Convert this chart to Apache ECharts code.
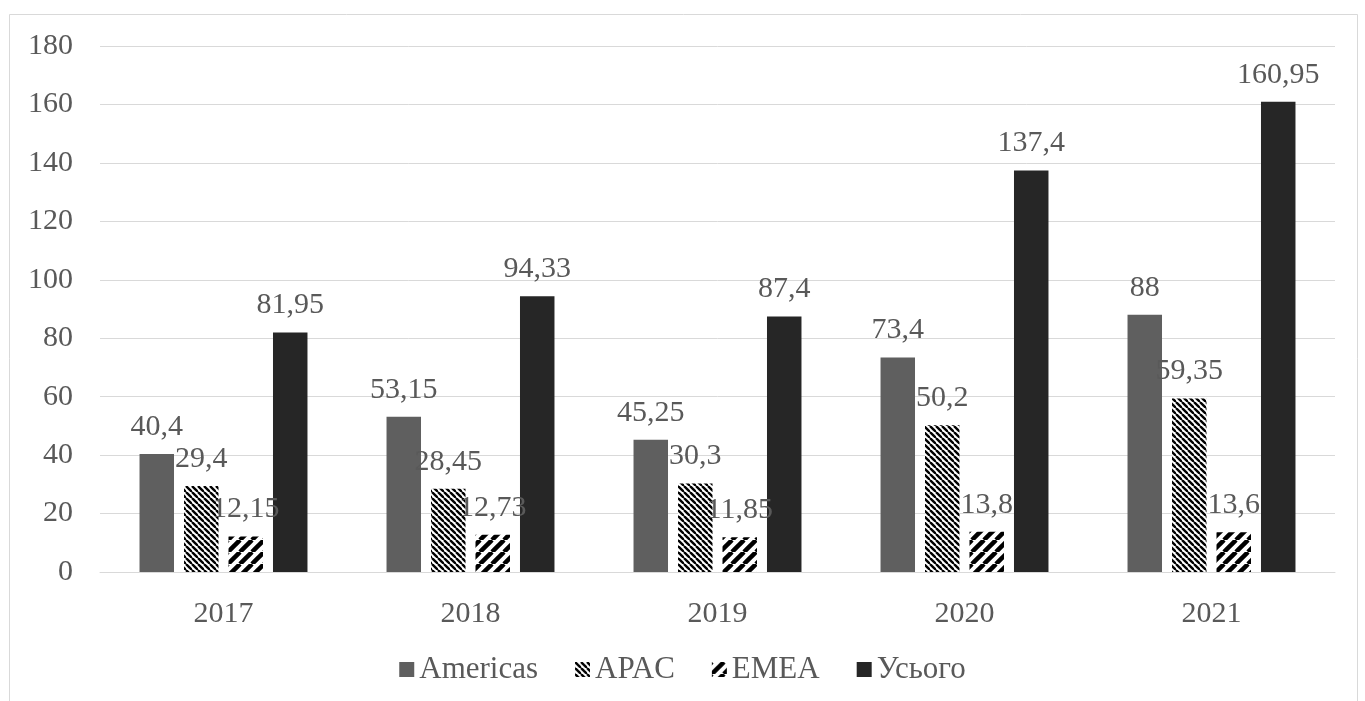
<!DOCTYPE html>
<html>
<head>
<meta charset="utf-8">
<script src="https://cdn.jsdelivr.net/npm/echarts@6/dist/echarts.min.js"></script>
<style>
  html, body { margin: 0; padding: 0; background: #fff; }
  #chart { width: 1365px; height: 701px; }
</style>
</head>
<body>
<div id="chart"></div>
<script>
// Regional figures by year
const years = ['2017', '2018', '2019', '2020', '2021'];
const americas = [40.4, 53.15, 45.25, 73.4, 88];
const apac = [29.4, 28.45, 30.3, 50.2, 59.35];
const emea = [12.15, 12.73, 11.85, 13.8, 13.6];
const total = [81.95, 94.33, 87.4, 137.4, 160.95];
const seriesNames = ['Americas', 'APAC', 'EMEA', 'Усього'];

// Diagonal hatch tiles used as bar fills
function hatch(size, width, dir) {
  const c = document.createElement('canvas');
  c.width = size; c.height = size;
  const g = c.getContext('2d');
  g.fillStyle = '#fff';
  g.fillRect(0, 0, size, size);
  g.strokeStyle = '#000';
  g.lineWidth = width;
  for (let k = -1; k <= 1; k++) {
    g.beginPath();
    if (dir === 'down') {
      g.moveTo(k * size, 0); g.lineTo(k * size + size, size);
    } else {
      g.moveTo(k * size + size, 0); g.lineTo(k * size, size);
    }
    g.stroke();
  }
  return c;
}

const font = '"Liberation Serif", "Times New Roman", serif';
const textColor = '#595959';

function label() {
  return {
    show: true,
    position: 'top',
    distance: 12,
    color: textColor,
    fontFamily: font,
    fontSize: 30,
    formatter: p => String(p.value).replace('.', ',')
  };
}

const chart = echarts.init(document.getElementById('chart'), null, { renderer: 'canvas' });
chart.setOption({
  animation: false,
  backgroundColor: '#fff',
  graphic: [{
    type: 'rect',
    shape: { x: 9.5, y: 14.5, width: 1348, height: 700 },
    style: { fill: 'none', stroke: '#d9d9d9', lineWidth: 1 },
    silent: true, z: -1
  }],
  grid: { left: 100, right: 30, top: 46, bottom: 129 },
  legend: {
    data: seriesNames,
    top: 649,
    left: 'center',
    icon: 'rect',
    itemWidth: 15,
    itemHeight: 15,
    itemGap: 37,
    textStyle: { color: textColor, fontFamily: font, fontSize: 31 }
  },
  xAxis: {
    type: 'category',
    data: years,
    axisLine: { lineStyle: { color: '#d9d9d9' } },
    axisTick: { show: false },
    axisLabel: { color: textColor, fontFamily: font, fontSize: 30, margin: 27 }
  },
  yAxis: {
    type: 'value',
    min: 0, max: 180, interval: 20,
    axisLine: { show: false },
    axisTick: { show: false },
    splitLine: { lineStyle: { color: '#d9d9d9' } },
    axisLabel: { color: textColor, fontFamily: font, fontSize: 30, margin: 27 }
  },
  series: [
    { name: 'Americas', type: 'bar', data: americas, barGap: '29%', barCategoryGap: '32%',
      itemStyle: { color: '#5f5f5f' }, label: label() },
    { name: 'APAC', type: 'bar', data: apac,
      itemStyle: { color: { image: hatch(6, 2.4, 'down'), repeat: 'repeat' } }, label: label() },
    { name: 'EMEA', type: 'bar', data: emea,
      itemStyle: { color: { image: hatch(12, 4.5, 'up'), repeat: 'repeat' } }, label: label() },
    { name: 'Усього', type: 'bar', data: total,
      itemStyle: { color: '#262626' }, label: label() }
  ]
});
</script>
</body>
</html>
